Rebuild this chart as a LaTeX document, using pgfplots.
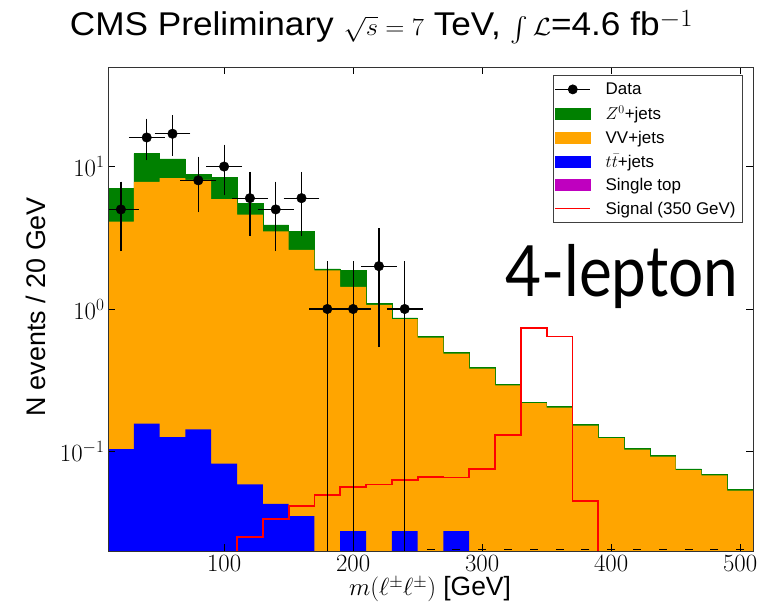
\documentclass[border=0pt]{standalone}
\usepackage{amsmath}
\usepackage{pgfplots}
\pgfplotsset{compat=1.18}
\usepackage{pgfplotstable}
\usepackage{graphicx}
\usepackage{fontspec}
\setmainfont{Liberation Sans}
\newfontfamily\latofont{Lato}

\definecolor{mgreen}{RGB}{0,128,0}
\definecolor{morange}{RGB}{255,165,0}
\definecolor{mblue}{RGB}{0,0,255}
\definecolor{mmag}{RGB}{191,0,191}
\definecolor{mred}{RGB}{255,0,0}
\newcommand\ls{\rule[-4bp]{0pt}{16.5bp}}

% bin left edges; cumulative stack tops: tot = Z+VV+tt, vv = VV+tt, tt ; sig separate
\pgfplotstableread{
x tot vv tt sig
10 0.001 0.001 0.001 0.001
10 7.0 4.1 0.104 0.001
30 12.3 7.8 0.157 0.001
50 11.3 8.3 0.126 0.001
70 8.8 8.05 0.143 0.001
90 8.4 5.9 0.082 0.001
110 5.5 4.6 0.0586 0.0251
130 3.9 3.5 0.0428 0.0337
150 3.5 2.6 0.0352 0.0412
170 1.91 1.87 0.001 0.0492
190 1.87 1.43 0.0276 0.0564
210 1.09 1.07 0.001 0.0586
230 0.865 0.85 0.0276 0.0633
250 0.641 0.63 0.001 0.0664
270 0.494 0.486 0.0276 0.0656
290 0.388 0.381 0.001 0.0755
310 0.296 0.291 0.001 0.130
330 0.222 0.218 0.001 0.734
350 0.207 0.203 0.001 0.641
370 0.155 0.152 0.001 0.0447
390 0.126 0.124 0.001 0.001
410 0.105 0.103 0.001 0.001
430 0.094 0.092 0.001 0.001
450 0.0755 0.074 0.001 0.001
470 0.069 0.068 0.001 0.001
490 0.054 0.053 0.001 0.001
510 0.054 0.053 0.001 0.001
510 0.001 0.001 0.001 0.001
}\stack

\pgfplotstableread{
x y ep em
20 5 2.236 2.236
40 16 4 4
60 17 4.12 4.12
80 8 2.83 2.83
100 10 3.16 3.16
120 6 2.45 2.45
140 5 2.236 2.236
160 6 2.45 2.45
180 1 1 0.9795
200 1 1 0.9795
220 2 1.414 1.414
240 1 1 0.9795
}\data

\pgfplotstableread{
x y
260 0.0205
280 0.0205
300 0.0205
320 0.0205
340 0.0205
360 0.0205
380 0.0205
400 0.0205
420 0.0205
440 0.0205
460 0.0205
480 0.0205
500 0.0205
}\zeros

\begin{document}
\begin{tikzpicture}[x=1bp,y=1bp]
\path[use as bounding box] (0,0) rectangle (768,611);
\begin{axis}[
  at={(108bp,60bp)}, anchor=south west,
  scale only axis, width=645bp, height=484bp,
  ymode=log, log basis y=10,
  xmin=10, xmax=510, ymin=0.02, ymax=50,
  xtick={100,200,300,400,500},
  ytick={0.1,1,10},
  tick pos=both, tick align=inside,
  major tick length=7bp, minor tick length=4bp,
  every tick/.style={black, line width=0.7bp},
  axis line style={black!80, line width=0.9bp},
  ticklabel style={font=\fontsize{24}{24}\selectfont},
  xticklabel style={yshift=-1bp},
  axis on top,
  legend cell align=left,
  legend style={at={(1,1)}, anchor=north east, xshift=-10bp, yshift=-8bp,
    draw=black!75, line width=0.8bp, fill=white,
    font=\fontsize{17}{19}\selectfont,
    inner xsep=1bp, inner ysep=5bp, row sep=5.5bp,
    nodes={inner xsep=6bp, inner ysep=2bp}},
]
% stack
\addplot[forget plot, const plot mark left, fill=mgreen, draw=mgreen, line width=0.6bp] table[x=x, y=tot] {\stack};
\addplot[forget plot, const plot mark left, fill=morange, draw=none] table[x=x, y=vv] {\stack};
\addplot[forget plot, const plot mark left, fill=mblue, draw=none] table[x=x, y=tt] {\stack};
% signal
\addplot[forget plot, const plot mark left, draw=mred, line width=1.8bp] table[x=x, y=sig] {\stack};
% data
\addplot[forget plot, black, only marks, mark=*, mark size=4.8bp,
  error bars/.cd, x dir=both, x fixed=10, y dir=both, y explicit,
  error bar style={line width=1.2bp, black},
  error mark options={line width=1.2bp, mark size=5bp, black}]
  table[x=x, y=y, y error plus=ep, y error minus=em] {\data};
\addplot[forget plot, black, only marks, mark=-, mark size=4bp, mark options={line width=1bp}] table[x=x, y=y] {\zeros};

\addlegendimage{legend image code/.code={\path (0bp,0bp) (44bp,0bp); \draw[black, line width=1.2bp] (0bp,0bp)--(35bp,0bp); \fill[black] (17.5bp,0bp) circle (4.5bp);}}
\addlegendentry{\ls Data}
\addlegendimage{legend image code/.code={\path (0bp,0bp) (44bp,0bp); \fill[mgreen] (0bp,-5.5bp) rectangle (35bp,5.5bp);}}
\addlegendentry{\ls$Z^0$+jets}
\addlegendimage{legend image code/.code={\path (0bp,0bp) (44bp,0bp); \fill[morange] (0bp,-5.5bp) rectangle (35bp,5.5bp);}}
\addlegendentry{\ls VV+jets}
\addlegendimage{legend image code/.code={\path (0bp,0bp) (44bp,0bp); \fill[mblue] (0bp,-5.5bp) rectangle (35bp,5.5bp);}}
\addlegendentry{\ls$t\bar{t}$+jets}
\addlegendimage{legend image code/.code={\path (0bp,0bp) (44bp,0bp); \fill[mmag] (0bp,-5.5bp) rectangle (35bp,5.5bp);}}
\addlegendentry{\ls Single top}
\addlegendimage{legend image code/.code={\path (0bp,0bp) (44bp,0bp); \draw[mred, line width=1.5bp] (0bp,0bp)--(35bp,0bp);}}
\addlegendentry{\ls Signal (350 GeV)}
\end{axis}

\node[anchor=base, inner sep=0] at (381.5,575) {\resizebox{623bp}{\height}{\fontsize{33}{33}\selectfont CMS Preliminary $\sqrt{s}=7$ TeV, $\int\mathcal{L}$=4.6 fb$^{-1}$}};
\node[rotate=90, anchor=base, inner sep=0] at (45,304) {\fontsize{27}{27}\selectfont N events / 20 GeV};
\node[anchor=base, inner sep=0] at (430,15) {\fontsize{26.5}{27}\selectfont $m(\ell^{\pm}\ell^{\pm})$ [GeV]};
\node[anchor=base west, inner sep=0] at (505,314) {\resizebox{233bp}{\height}{\latofont\fontsize{71}{71}\selectfont 4-lepton}};
\end{tikzpicture}
\end{document}
